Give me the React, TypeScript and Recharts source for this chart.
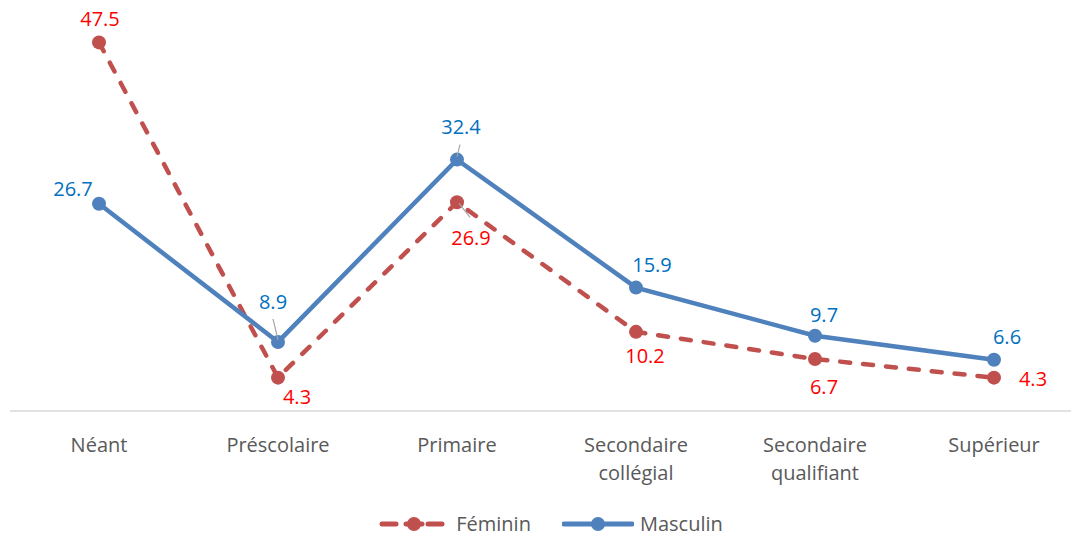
import { LineChart, Line, XAxis, YAxis, Legend } from 'recharts';

const categories = ['Néant', 'Préscolaire', 'Primaire', 'Secondaire collégial', 'Secondaire qualifiant', 'Supérieur'];
const femininValues = [47.5, 4.3, 26.9, 10.2, 6.7, 4.3];
const masculinValues = [26.7, 8.9, 32.4, 15.9, 9.7, 6.6];

const data = categories.map((c, i) => ({ cat: c, Féminin: femininValues[i], Masculin: masculinValues[i] }));

const RED = '#C0504D';
const BLUE = '#4F81BD';
const FONT = '"Open Sans", sans-serif';

// label placement relative to each point [dx, dy]
const femOffsets = [[1, -24], [19, 19], [14, 35], [9, 24], [9, 27], [39, 1]];
const mascOffsets = [[-26, -15], [-5, -40], [4, -33], [16, -23], [9, -21], [13, -23]];
// leader lines [x1, y1, x2, y2] relative to point
const femLeaders: Record<number, number[]> = { 2: [2, 1, 13, 15] };
const mascLeaders: Record<number, number[]> = { 1: [-5, -23, 0, -2], 2: [3, -15, 0, -3] };

function makeLabel(offsets: number[][], leaders: Record<number, number[]>, color: string) {
  return (props: any) => {
    const { x, y, index, value } = props;
    const [dx, dy] = offsets[index];
    const l = leaders[index];
    return (
      <g>
        {l && <line x1={x + l[0]} y1={y + l[1]} x2={x + l[2]} y2={y + l[3]} stroke="#A6A6A6" strokeWidth={1.2} />}
        <text x={x + dx} y={y + dy} textAnchor="middle" dominantBaseline="central" fill={color} fontSize={20} fontFamily={FONT}>
          {Number(value).toFixed(1)}
        </text>
      </g>
    );
  };
}

function Tick(props: any) {
  const { x, y, payload } = props;
  const words = String(payload.value).split(' ');
  const lines = words.length > 1 ? [words[0], words.slice(1).join(' ')] : words;
  return (
    <text x={x} y={y} textAnchor="middle" fill="#595959" fontSize={20} fontFamily={FONT}>
      {lines.map((t, i) => (
        <tspan key={i} x={x} y={y + 33 + i * 28} dominantBaseline="central">{t}</tspan>
      ))}
    </text>
  );
}

function LegendContent() {
  return (
    <div style={{ height: 24, display: 'flex', justifyContent: 'center', alignItems: 'center', paddingLeft: 9, fontFamily: FONT, fontSize: 20, lineHeight: '20px', color: '#595959' }}>
      <svg width={66} height={18} style={{ marginRight: 11 }}>
        <line x1={3} y1={9} x2={17} y2={9} stroke={RED} strokeWidth={5} strokeLinecap="round" />
        <line x1={49} y1={9} x2={63} y2={9} stroke={RED} strokeWidth={5} strokeLinecap="round" />
        <line x1={27} y1={9} x2={43} y2={9} stroke={RED} strokeWidth={5} strokeLinecap="round" />
        <circle cx={35} cy={9} r={7} fill={RED} />
      </svg>
      <span style={{ marginRight: 31 }}>Féminin</span>
      <svg width={72} height={18} style={{ marginRight: 6 }}>
        <line x1={2} y1={9} x2={70} y2={9} stroke={BLUE} strokeWidth={5} strokeLinecap="round" />
        <circle cx={36} cy={9} r={7} fill={BLUE} />
      </svg>
      <span>Masculin</span>
    </div>
  );
}

export default function App() {
  return (
    <div style={{ position: 'absolute', left: 0, top: 0, width: 1071, height: 536, overflow: 'hidden', background: '#fff' }}>
      <LineChart width={1090} height={536} data={data} margin={{ top: 23, right: 7, left: 10, bottom: 0 }}>
        <XAxis
          dataKey="cat"
          interval={0}
          padding={{ left: 89, right: 89 }}
          axisLine={{ stroke: '#D9D9D9', strokeWidth: 1.5 }}
          tickLine={false}
          tickSize={0}
          tickMargin={0}
          height={101}
          tick={<Tick />}
        />
        <YAxis hide domain={[0, 50]} />
        <Legend verticalAlign="bottom" content={<LegendContent />} />
        <Line
          dataKey="Féminin"
          stroke={RED}
          strokeWidth={4.5}
          strokeDasharray="10 13"
          strokeLinecap="round"
          dot={{ r: 7, fill: RED, strokeWidth: 0 }}
          activeDot={false}
          isAnimationActive={false}
          label={makeLabel(femOffsets, femLeaders, '#FF0000')}
        />
        <Line
          dataKey="Masculin"
          stroke={BLUE}
          strokeWidth={4.5}
          dot={{ r: 7, fill: BLUE, strokeWidth: 0 }}
          activeDot={false}
          isAnimationActive={false}
          label={makeLabel(mascOffsets, mascLeaders, '#0070C0')}
        />
      </LineChart>
    </div>
  );
}
